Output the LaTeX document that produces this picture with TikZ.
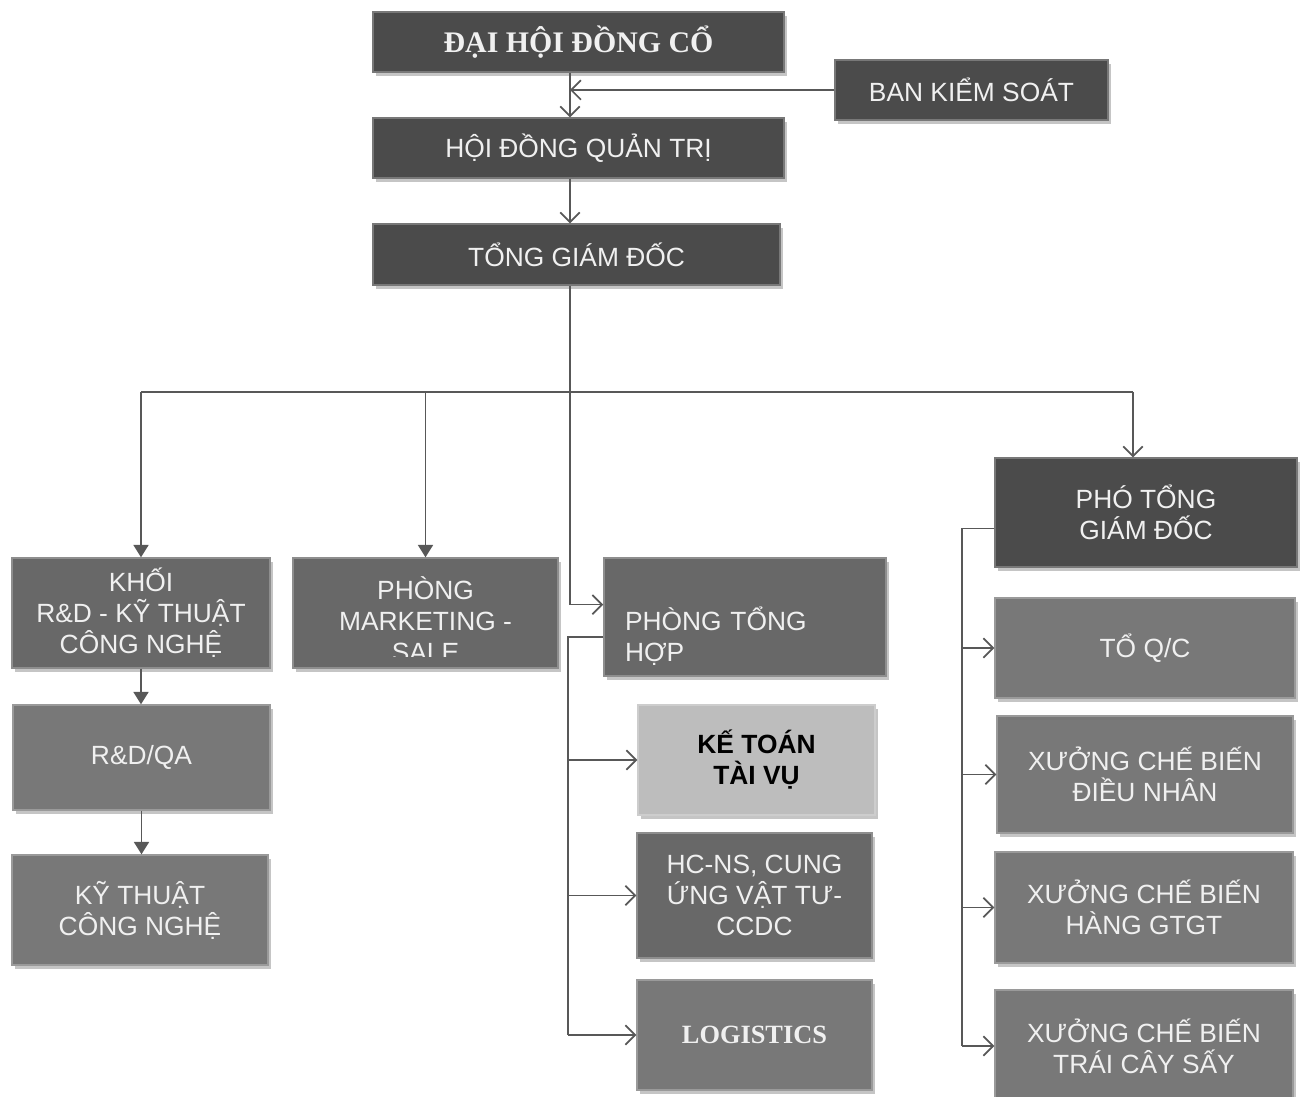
\documentclass[tikz,border=0pt]{standalone}
\usepackage{fontspec}
\setmainfont{Liberation Sans}
\newfontfamily\serifvn{Liberation Serif}
\usetikzlibrary{arrows.meta,shadows}
\definecolor{darkbox}{HTML}{4B4B4B}
\definecolor{midbox}{HTML}{686868}
\definecolor{lightbox}{HTML}{787878}
\definecolor{palebox}{HTML}{BDBDBD}
\definecolor{wire}{HTML}{585858}
\tikzset{
  orgbox/.style={rectangle, fill=#1, draw=#1!75!white, line width=0.8pt,
    text=white!94!black, font=\fontsize{15}{17.6}\selectfont, align=center,
    drop shadow={shadow xshift=1.5pt, shadow yshift=-2pt, opacity=0.45}},
  sz/.style 2 args={minimum width=#1*0.02cm, minimum height=#2*0.02cm},
  link/.style={draw=wire, line width=1pt},
  opn/.style={link, -{Straight Barb[length=5.5pt,width=11pt]}},
  sld/.style={link, -{Triangle[length=7pt,width=8.5pt]}},
}
\begin{document}
\begin{tikzpicture}[x=0.02cm,y=-0.02cm]
\path[fill=white,use as bounding box] (0,0) rectangle (1306,1097);
% top of the chart
\node[orgbox=darkbox,sz={411}{60},font=\serifvn\bfseries\fontsize{17}{20}\selectfont] (dhdc) at (578.5,42) {ĐẠI HỘI ĐỒNG CỔ};
\node[orgbox=darkbox,sz={273}{60}] (bks) at (971.5,90) {BAN KIỂM SOÁT};
\node[orgbox=darkbox,sz={411}{60}] (hdqt) at (578.5,148) {HỘI ĐỒNG QUẢN TRỊ};
\node[orgbox=darkbox,sz={407}{61}] (tgd) at (576.5,254.5) {TỔNG GIÁM ĐỐC};
% second row
\node[orgbox=midbox,sz={258}{110}] (khoi) at (141,613) {KHỐI\\R\&D - KỸ THUẬT\\CÔNG NGHỆ};
\node[orgbox=midbox,sz={265}{110}] (mkt) at (425.5,613) {};
\begin{scope}
  \clip (mkt.north west) rectangle ([yshift=6.8pt]mkt.south east);
  \node[text=white!94!black,font=\fontsize{15}{17.6}\selectfont,align=center,inner sep=0pt,anchor=north] (mkttxt) at ([yshift=-19*0.02cm]mkt.north) {PHÒNG\\MARKETING -\\SALE};
\end{scope}
\node[orgbox=midbox,sz={282}{118},align=left,text width=240*0.02cm,inner xsep=0pt] (pth) at (745,617) {\mbox{}\\\mbox{}\\PHÒNG TỔNG\\HỢP};
\node[orgbox=darkbox,sz={302}{109}] (ptgd) at (1146,512.5) {PHÓ TỔNG\\GIÁM ĐỐC};
% left column
\node[orgbox=lightbox,sz={257}{105}] (rdqa) at (141.5,757.5) {R\&D/QA};
\node[orgbox=lightbox,sz={256}{110}] (ktcn) at (140,910) {KỸ THUẬT\\CÔNG NGHỆ};
% middle column
\node[orgbox=palebox,sz={237}{110},text=black,font=\bfseries\fontsize{15}{17.6}\selectfont] (ketoan) at (756.5,760) {KẾ TOÁN\\TÀI VỤ};
\node[orgbox=midbox,sz={235}{125}] (hcns) at (754.5,895.5) {HC-NS, CUNG\\ỨNG VẬT TƯ-\\CCDC};
\node[orgbox=lightbox,sz={235}{110},font=\serifvn\bfseries\fontsize{15}{18}\selectfont] (logi) at (754.5,1035) {LOGISTICS};
% right column
\node[orgbox=lightbox,sz={300}{100}] (qc) at (1145,648) {TỔ Q/C};
\node[orgbox=lightbox,sz={296}{117}] (xdn) at (1145,774.5) {XƯỞNG CHẾ BIẾN\\ĐIỀU NHÂN};
\node[orgbox=lightbox,sz={298}{111}] (xgt) at (1144,907.5) {XƯỞNG CHẾ BIẾN\\HÀNG GTGT};
\node[orgbox=lightbox,sz={298}{112}] (xtc) at (1144,1046) {XƯỞNG CHẾ BIẾN\\TRÁI CÂY SẤY};

\coordinate (spine) at (570,0);
\coordinate (bus) at (0,392);
\coordinate (busR) at (1133,392);
\coordinate (lbus) at (568,0);
\coordinate (rbus) at (962,0);

\draw[opn] (dhdc.south -| spine) -- (hdqt.north -| spine);
\draw[opn] (bks.west) -- (bks.west -| spine);
\draw[opn] (hdqt.south -| spine) -- (tgd.north -| spine);
\draw[opn] (tgd.south -| spine) |- (pth.175);
\draw[link] (khoi.north |- bus) -- (busR);
\draw[sld] (khoi.north |- bus) -- (khoi.north);
\draw[sld] (mkt.north |- bus) -- (mkt.north);
\draw[opn] (busR) -- (busR |- ptgd.north);
\draw[sld] (khoi.south) -- (khoi.south |- rdqa.north);
\draw[sld] (rdqa.south) -- (rdqa.south |- ktcn.north);
\draw[link] (pth.188) -| (lbus |- logi.west);
\foreach \n in {ketoan,hcns,logi} \draw[opn] (lbus |- \n.west) -- (\n.west);
\draw[link] (ptgd.186) -| (rbus |- xtc.west);
\foreach \n in {qc,xdn,xgt,xtc} \draw[opn] (rbus |- \n.west) -- (\n.west);
\end{tikzpicture}
\end{document}
